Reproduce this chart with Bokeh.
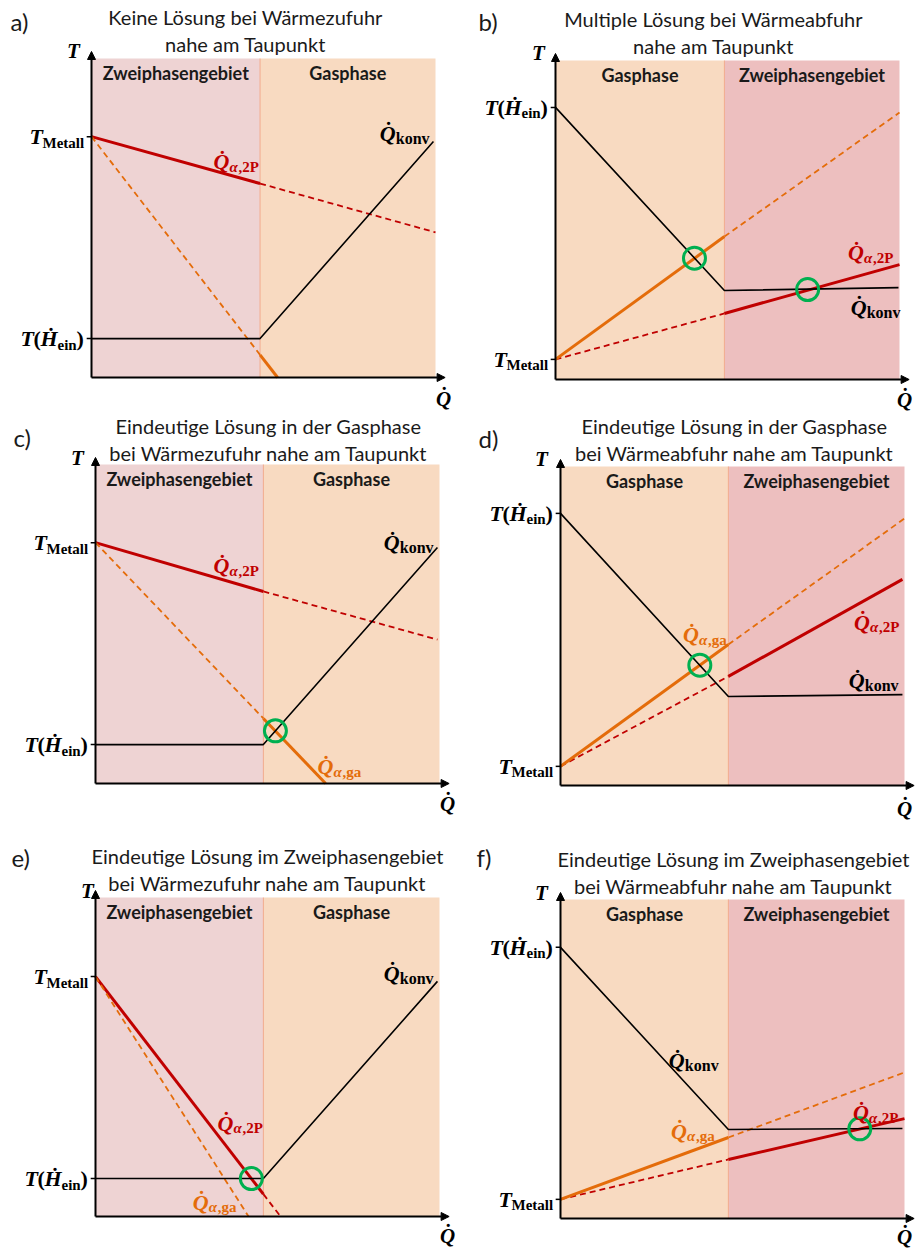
from bokeh.plotting import figure
from bokeh.models import Range1d, Arrow, NormalHead
from bokeh.layouts import column, row
from bokeh.core.properties import value
from bokeh.embed import file_html
from bokeh.resources import INLINE

SANS = "Lato"
SERIF = "Liberation Serif"

RED = "#C00000"
ORANGE = "#E46C0A"
GREEN = "#00B050"
GAS_FILL = "#F8DAC1"
TWO_PHASE_HEAT = "#EED3D3"
TWO_PHASE_COOL = "#EDBFBF"
BORDER = "#F2AA8C"

SX, SY = 344.0, 319.0  # pixels per unit of Q and T

# ---------------- a) heating, no solution ----------------
A_TITLE = ["Keine Lösung bei Wärmezufuhr", "nahe am Taupunkt"]
A_BOUND = 0.49
A_T_METALL = 0.755
A_T_HEIN = 0.122
A_KONV_Q = [0.0, 0.49, 0.994]
A_KONV_T = [0.122, 0.122, 0.740]
A_2P_Q = [0.0, 0.49, 1.0]
A_2P_T = [0.755, 0.608, 0.455]
A_GA_Q = [0.0, 0.49, 0.541]
A_GA_T = [0.755, 0.071, 0.0]
A_RING_Q = []
A_RING_T = []

# ---------------- b) cooling, multiple solutions ----------------
B_TITLE = ["Multiple Lösung bei Wärmeabfuhr", "nahe am Taupunkt"]
B_BOUND = 0.491
B_T_METALL = 0.063
B_T_HEIN = 0.853
B_KONV_Q = [0.0, 0.491, 0.997]
B_KONV_T = [0.853, 0.279, 0.288]
B_2P_Q = [0.0, 0.491, 1.0]
B_2P_T = [0.063, 0.207, 0.360]
B_GA_Q = [0.0, 0.491, 1.0]
B_GA_T = [0.063, 0.448, 0.837]
B_RING_Q = [0.404, 0.733]
B_RING_T = [0.380, 0.282]

# ---------------- c) heating, solution in gas phase ----------------
C_TITLE = ["Eindeutige Lösung in der Gasphase", "bei Wärmezufuhr nahe am Taupunkt"]
C_BOUND = 0.488
C_T_METALL = 0.755
C_T_HEIN = 0.122
C_KONV_Q = [0.0, 0.488, 0.994]
C_KONV_T = [0.122, 0.122, 0.740]
C_2P_Q = [0.0, 0.488, 0.994]
C_2P_T = [0.755, 0.602, 0.451]
C_GA_Q = [0.0, 0.488, 0.669]
C_GA_T = [0.755, 0.204, 0.0]
C_RING_Q = [0.523]
C_RING_T = [0.165]

# ---------------- d) cooling, solution in gas phase ----------------
D_TITLE = ["Eindeutige Lösung in der Gasphase", "bei Wärmeabfuhr nahe am Taupunkt"]
D_BOUND = 0.488
D_T_METALL = 0.060
D_T_HEIN = 0.853
D_KONV_Q = [0.0, 0.488, 0.994]
D_KONV_T = [0.853, 0.279, 0.285]
D_2P_Q = [0.0, 0.488, 0.994]
D_2P_T = [0.060, 0.342, 0.646]
D_GA_Q = [0.0, 0.488, 1.0]
D_GA_T = [0.060, 0.442, 0.837]
D_RING_Q = [0.405]
D_RING_T = [0.377]

# ---------------- e) heating, solution in two-phase region ----------------
E_TITLE = ["Eindeutige Lösung im Zweiphasengebiet", "bei Wärmezufuhr nahe am Taupunkt"]
E_BOUND = 0.488
E_T_METALL = 0.752
E_T_HEIN = 0.119
E_KONV_Q = [0.0, 0.488, 0.994]
E_KONV_T = [0.119, 0.119, 0.737]
E_2P_Q = [0.0, 0.488, 0.538]
E_2P_T = [0.752, 0.070, 0.0]
E_GA_Q = [0.0, 0.445]
E_GA_T = [0.752, 0.0]
E_RING_Q = [0.453]
E_RING_T = [0.119]

# ---------------- f) cooling, solution in two-phase region ----------------
F_TITLE = ["Eindeutige Lösung im Zweiphasengebiet", "bei Wärmeabfuhr nahe am Taupunkt"]
F_BOUND = 0.488
F_T_METALL = 0.060
F_T_HEIN = 0.850
F_KONV_Q = [0.0, 0.488, 0.994]
F_KONV_T = [0.850, 0.279, 0.282]
F_2P_Q = [0.0, 0.488, 1.0]
F_2P_T = [0.060, 0.185, 0.313]
F_GA_Q = [0.0, 0.488, 1.0]
F_GA_T = [0.060, 0.254, 0.458]
F_RING_Q = [0.870]
F_RING_T = [0.281]

REGION_2P = "Zweiphasengebiet"
REGION_GAS = "Gasphase"

# label pieces: (text, size px, style, dx px, dy px)
LBL_KONV = [("Q\u0307", 22, "bold italic", 0, 0), ("konv", 16, "bold", 16, 5)]
LBL_2P = [("Q\u0307", 22, "bold italic", 0, 0), ("\u03b1", 15, "bold italic", 16, 5),
          (",2P", 15, "bold", 25, 5)]
LBL_GA = [("Q\u0307", 22, "bold italic", 0, 0), ("\u03b1", 15, "bold italic", 16, 5),
          (",ga", 15, "bold", 25, 5)]
LBL_TMET = [("T", 22, "bold italic", -62, 0), ("Metall", 15, "bold", -49, 6)]
LBL_THEIN = [("T", 22, "bold italic", -71, 0), ("(", 22, "bold", -58, 0),
             ("\u1e22", 22, "bold italic", -51, 0), ("ein", 15, "bold", -34, 6),
             (")", 22, "bold", -15, 0)]

# panel frames: size, origin of axes (px), heating/cooling, text positions (px)
PANELS = [
    dict(letter="a)", title=A_TITLE, w=458, h=414, origin=(91, 377), heat=True,
         bound=A_BOUND, tm=A_T_METALL, th=A_T_HEIN, konv=(A_KONV_Q, A_KONV_T),
         p2=(A_2P_Q, A_2P_T), ga=(A_GA_Q, A_GA_T), ring=(A_RING_Q, A_RING_T),
         title_xy=(245, 16, 43), letter_xy=(10, 21), t_xy=(73, 50), q_xy=(443, 398),
         lbl=[(LBL_2P, RED, 0.355, 0.677), (LBL_KONV, "black", 0.838, 0.765)]),
    dict(letter="b)", title=B_TITLE, w=458, h=414, origin=(97, 379), heat=False,
         bound=B_BOUND, tm=B_T_METALL, th=B_T_HEIN, konv=(B_KONV_Q, B_KONV_T),
         p2=(B_2P_Q, B_2P_T), ga=(B_GA_Q, B_GA_T), ring=(B_RING_Q, B_RING_T),
         title_xy=(255, 18, 45), letter_xy=(20, 21), t_xy=(80, 52), q_xy=(446, 399),
         lbl=[(LBL_2P, RED, 0.850, 0.398), (LBL_KONV, "black", 0.858, 0.226)]),
    dict(letter="c)", title=C_TITLE, w=458, h=414, origin=(95, 369), heat=True,
         bound=C_BOUND, tm=C_T_METALL, th=C_T_HEIN, konv=(C_KONV_Q, C_KONV_T),
         p2=(C_2P_Q, C_2P_T), ga=(C_GA_Q, C_GA_T), ring=(C_RING_Q, C_RING_T),
         title_xy=(268, 11, 38), letter_xy=(13, 23), t_xy=(77, 43), q_xy=(447, 389),
         lbl=[(LBL_2P, RED, 0.343, 0.683), (LBL_KONV, "black", 0.838, 0.755),
              (LBL_GA, ORANGE, 0.645, 0.053)]),
    dict(letter="d)", title=D_TITLE, w=458, h=414, origin=(102, 371), heat=False,
         bound=D_BOUND, tm=D_T_METALL, th=D_T_HEIN, konv=(D_KONV_Q, D_KONV_T),
         p2=(D_2P_Q, D_2P_T), ga=(D_GA_Q, D_GA_T), ring=(D_RING_Q, D_RING_T),
         title_xy=(276, 11, 38), letter_xy=(20, 24), t_xy=(83, 44), q_xy=(446, 394),
         lbl=[(LBL_GA, ORANGE, 0.356, 0.473), (LBL_2P, RED, 0.853, 0.511),
              (LBL_KONV, "black", 0.838, 0.329)]),
    dict(letter="e)", title=E_TITLE, w=458, h=421, origin=(95, 388), heat=True,
         bound=E_BOUND, tm=E_T_METALL, th=E_T_HEIN, konv=(E_KONV_Q, E_KONV_T),
         p2=(E_2P_Q, E_2P_T), ga=(E_GA_Q, E_GA_T), ring=(E_RING_Q, E_RING_T),
         title_xy=(267, 27, 54), letter_xy=(11, 29), t_xy=(87, 62), q_xy=(447, 407),
         lbl=[(LBL_2P, RED, 0.355, 0.292), (LBL_GA, ORANGE, 0.283, 0.044),
              (LBL_KONV, "black", 0.838, 0.762)]),
    dict(letter="f)", title=F_TITLE, w=458, h=421, origin=(102, 390), heat=False,
         bound=F_BOUND, tm=F_T_METALL, th=F_T_HEIN, konv=(F_KONV_Q, F_KONV_T),
         p2=(F_2P_Q, F_2P_T), ga=(F_GA_Q, F_GA_T), ring=(F_RING_Q, F_RING_T),
         title_xy=(275, 30, 57), letter_xy=(18, 29), t_xy=(83, 64), q_xy=(446, 408),
         lbl=[(LBL_KONV, "black", 0.315, 0.495), (LBL_GA, ORANGE, 0.321, 0.273),
              (LBL_2P, RED, 0.850, 0.332)]),
]


def math_label(p, x, y, pieces, color):
    for txt, size, style, dx, dy in pieces:
        p.text(x=[x], y=[y], text=[txt], text_font=value(SERIF),
               text_font_size=f"{size}px", text_font_style=style, text_color=color,
               text_align="left", text_baseline="middle", x_offset=dx, y_offset=dy)


def draw_curve(p, qs, ts, color, own_left, bound):
    # solid inside the curve's own region, dashed where it is only extrapolated
    for i in range(len(qs) - 1):
        mid = 0.5 * (qs[i] + qs[i + 1])
        own = (mid < bound) == own_left
        if own:
            p.line([qs[i], qs[i + 1]], [ts[i], ts[i + 1]], line_color=color, line_width=3)
        else:
            p.line([qs[i], qs[i + 1]], [ts[i], ts[i + 1]], line_color=color,
                   line_width=1.8, line_dash="6 4")


def make_panel(cfg):
    ox, oy = cfg["origin"]
    w, h = cfg["w"], cfg["h"]

    def to_q(px):
        return (px - ox) / SX

    def to_t(py):
        return (oy - py) / SY

    p = figure(width=w, height=h, output_backend="svg", toolbar_location=None,
               x_range=Range1d(to_q(0), to_q(w)), y_range=Range1d(to_t(h), to_t(0)),
               x_axis_location=None, y_axis_location=None, min_border=0,
               background_fill_color="white", border_fill_color="white")
    p.outline_line_color = None
    p.grid.visible = False

    b = cfg["bound"]
    heat = cfg["heat"]
    left_fill = TWO_PHASE_HEAT if heat else GAS_FILL
    right_fill = GAS_FILL if heat else TWO_PHASE_COOL
    p.quad(left=[0, b], right=[b, 1.0], bottom=[0, 0], top=[1.0, 1.0],
           fill_color=[left_fill, right_fill], line_color=None)
    p.segment(x0=[b], y0=[0], x1=[b], y1=[1.0], line_color=BORDER, line_width=1)

    # region names
    left_name = REGION_2P if heat else REGION_GAS
    right_name = REGION_GAS if heat else REGION_2P
    p.text(x=[b / 2, (b + 1.0) / 2], y=[0.955, 0.955], text=[left_name, right_name],
           text_font=value(SANS), text_font_size="18px", text_font_style="bold",
           text_color="#1a1a1a", text_align="center", text_baseline="middle")

    # curves: two-phase curve owns the two-phase side, gas curve the gas side
    draw_curve(p, cfg["p2"][0], cfg["p2"][1], RED, heat, b)
    draw_curve(p, cfg["ga"][0], cfg["ga"][1], ORANGE, not heat, b)
    p.line(cfg["konv"][0], cfg["konv"][1], line_color="black", line_width=1.6)

    if cfg["ring"][0]:
        p.scatter(cfg["ring"][0], cfg["ring"][1], marker="circle", size=22,
                  fill_color=None, line_color=GREEN, line_width=3)

    # axes with arrow heads
    head = dict(size=8, fill_color="black", line_color="black", line_width=1)
    p.add_layout(Arrow(end=NormalHead(**head), x_start=0, y_start=0, x_end=1.028,
                       y_end=0, line_width=2, line_color="black"))
    p.add_layout(Arrow(end=NormalHead(**head), x_start=0, y_start=0, x_end=0,
                       y_end=1.022, line_width=2, line_color="black"))
    p.segment(x0=[-0.014, -0.014], y0=[cfg["tm"], cfg["th"]], x1=[0, 0],
              y1=[cfg["tm"], cfg["th"]], line_color="black", line_width=1.5)

    math_label(p, 0, cfg["tm"], LBL_TMET, "black")
    math_label(p, 0, cfg["th"], LBL_THEIN, "black")

    tx, ty = cfg["t_xy"]
    p.text(x=[to_q(tx)], y=[to_t(ty)], text=["T"], text_font=value(SERIF),
           text_font_size="21px", text_font_style="bold italic", text_color="black",
           text_align="center", text_baseline="middle")
    qx, qy = cfg["q_xy"]
    p.text(x=[to_q(qx)], y=[to_t(qy)], text=["Q\u0307"], text_font=value(SERIF),
           text_font_size="21px", text_font_style="bold italic", text_color="black",
           text_align="center", text_baseline="middle")

    for pieces, color, lq, lt in cfg["lbl"]:
        math_label(p, lq, lt, pieces, color)

    # heading and panel letter
    cx, y1, y2 = cfg["title_xy"]
    p.text(x=[to_q(cx), to_q(cx)], y=[to_t(y1), to_t(y2)], text=cfg["title"],
           text_font=value(SANS), text_font_size="20px", text_color="#1a1a1a",
           text_align="center", text_baseline="middle")
    lx, ly = cfg["letter_xy"]
    p.text(x=[to_q(lx)], y=[to_t(ly)], text=[cfg["letter"]], text_font=value(SANS),
           text_font_size="24px", text_color="#1a1a1a", text_align="left",
           text_baseline="middle")
    return p


figs = [make_panel(c) for c in PANELS]
layout = column(row(figs[0], figs[1], spacing=0), row(figs[2], figs[3], spacing=0),
                row(figs[4], figs[5], spacing=0), spacing=0)

open("out.html", "w").write(file_html(layout, INLINE))
